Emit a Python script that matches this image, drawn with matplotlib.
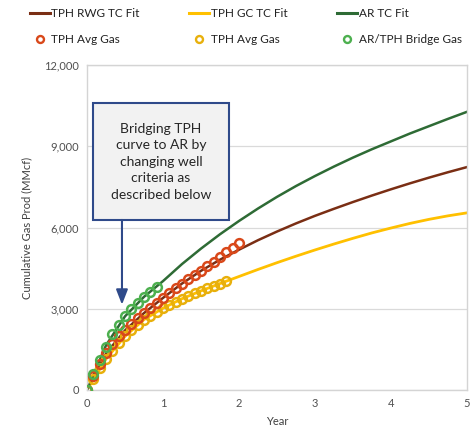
import numpy as np
import matplotlib
matplotlib.use("Agg")
import matplotlib.pyplot as plt
from matplotlib.lines import Line2D
from matplotlib.patches import Rectangle

plt.rcParams['font.family'] = ['Lato', 'DejaVu Sans']

# Type-curve fits (years, MMcf)
fit_years = [0, 0.25, 0.5, 0.75, 1.0, 1.25, 1.5, 1.75, 2.0, 2.25, 2.5,
             2.75, 3.0, 3.25, 3.5, 3.75, 4.0, 4.25, 4.5, 4.75, 5.0]
rwg_fit = [0, 1350, 2200, 2840, 3400, 3930, 4400, 4810, 5180, 5530, 5850,
           6150, 6430, 6690, 6940, 7180, 7410, 7630, 7840, 8040, 8230]
gc_fit = [0, 1150, 1980, 2600, 3020, 3370, 3660, 3930, 4190, 4450, 4700,
          4940, 5170, 5390, 5600, 5800, 5980, 6150, 6300, 6430, 6540]
ar_fit = [0, 1650, 2720, 3440, 4020, 4650, 5220, 5750, 6240, 6700, 7130,
          7530, 7900, 8250, 8580, 8890, 9180, 9470, 9740, 10010, 10270]

# Monthly average cumulative gas
rwg_avg = [0, 500, 950, 1350, 1700, 2000, 2230, 2440, 2640, 2840, 3030, 3220,
           3400, 3580, 3750, 3920, 4080, 4240, 4400, 4570, 4740, 4910, 5080,
           5250, 5420]
gc_avg = [0, 420, 800, 1150, 1450, 1730, 1980, 2200, 2410, 2600, 2750, 2890,
          3020, 3140, 3260, 3370, 3470, 3570, 3660, 3750, 3840, 3930, 4020]
bridge_avg = [0, 600, 1100, 1600, 2050, 2400, 2720, 2980, 3220, 3440, 3620,
              3800]

y_ticks = [0, 3000, 6000, 9000, 12000]
x_ticks = [0, 1, 2, 3, 4, 5]

c_rwg_line = '#7A2E14'
c_gc_line = '#FFC000'
c_ar_line = '#2E6B35'
c_rwg_pt = '#D9481A'
c_gc_pt = '#E8B00C'
c_ar_pt = '#4DB04F'

fig = plt.figure(figsize=(4.73, 4.37), dpi=100)
ax = fig.add_axes([0.184, 0.1076, 0.803, 0.7436])

ax.plot(fit_years, rwg_fit, color=c_rwg_line, lw=1.8, zorder=2)
ax.plot(fit_years, gc_fit, color=c_gc_line, lw=2.0, zorder=2)
ax.plot(fit_years, ar_fit, color=c_ar_line, lw=1.8, zorder=2)

def months(vals):
    return np.arange(len(vals)) / 12.0

mk = dict(marker='o', ls='none', markersize=6.3, markerfacecolor='none',
          markeredgewidth=1.8, zorder=3)
ax.plot(months(gc_avg), gc_avg, markeredgecolor=c_gc_pt, **mk)
ax.plot(months(rwg_avg), rwg_avg, markeredgecolor=c_rwg_pt, **mk)
ax.plot(months(bridge_avg), bridge_avg, markeredgecolor=c_ar_pt, **mk)

ax.set_xlim(0, 5)
ax.set_ylim(0, 12000)
ax.set_xticks(x_ticks)
ax.set_yticks(y_ticks)
ax.set_xticklabels([str(v) for v in x_ticks])
ax.set_yticklabels([f"{v:,}" for v in y_ticks])
ax.tick_params(length=0, labelsize=8, colors='#505050', pad=6)
ax.yaxis.grid(True, color='#DADADA', lw=0.9)
ax.set_axisbelow(True)
for s in ax.spines.values():
    s.set_color('#D4D4D4')
    s.set_linewidth(1.0)

ax.set_xlabel('Year', fontsize=8, color='#404040', labelpad=5)
ax.set_ylabel('Cumulative Gas Prod (MMcf)', fontsize=8, color='#404040',
              labelpad=8)

# Call-out box with arrow
box = Rectangle((0.08, 6280), 1.79, 4300, facecolor='#F2F2F2',
                edgecolor='#2F4A8A', lw=1.5, zorder=5)
ax.add_patch(box)
ax.text(0.975, 8430, 'Bridging TPH\ncurve to AR by\nchanging well\ncriteria as\ndescribed below',
        ha='center', va='center', fontsize=10, color='#262626',
        linespacing=1.45, zorder=6)
ax.annotate('', xy=(0.46, 3150), xytext=(0.46, 6280),
            arrowprops=dict(arrowstyle='-|>,head_width=0.35,head_length=0.9',
                            color='#2F4A8A', lw=1.5, shrinkA=0, shrinkB=0),
            zorder=6)

handles = [
    Line2D([], [], color=c_rwg_line, lw=2.2),
    Line2D([], [], marker='o', ls='none', markersize=5, markerfacecolor='none',
           markeredgewidth=1.7, markeredgecolor=c_rwg_pt),
    Line2D([], [], color=c_gc_line, lw=2.2),
    Line2D([], [], marker='o', ls='none', markersize=5, markerfacecolor='none',
           markeredgewidth=1.7, markeredgecolor=c_gc_pt),
    Line2D([], [], color=c_ar_line, lw=2.2),
    Line2D([], [], marker='o', ls='none', markersize=5, markerfacecolor='none',
           markeredgewidth=1.7, markeredgecolor=c_ar_pt),
]
labels = ['TPH RWG TC Fit', 'TPH Avg Gas', 'TPH GC TC Fit', 'TPH Avg Gas',
          'AR TC Fit', 'AR/TPH Bridge Gas']
leg = fig.legend(handles, labels, ncol=3, loc='upper left',
                 bbox_to_anchor=(0.045, 1.0), frameon=False, fontsize=8.5,
                 handlelength=1.7, handletextpad=0.15, columnspacing=4.2,
                 labelspacing=1.25, borderaxespad=0.3)
for t in leg.get_texts():
    t.set_color('#222222')

fig.savefig('out.png', dpi=100, facecolor='white')
